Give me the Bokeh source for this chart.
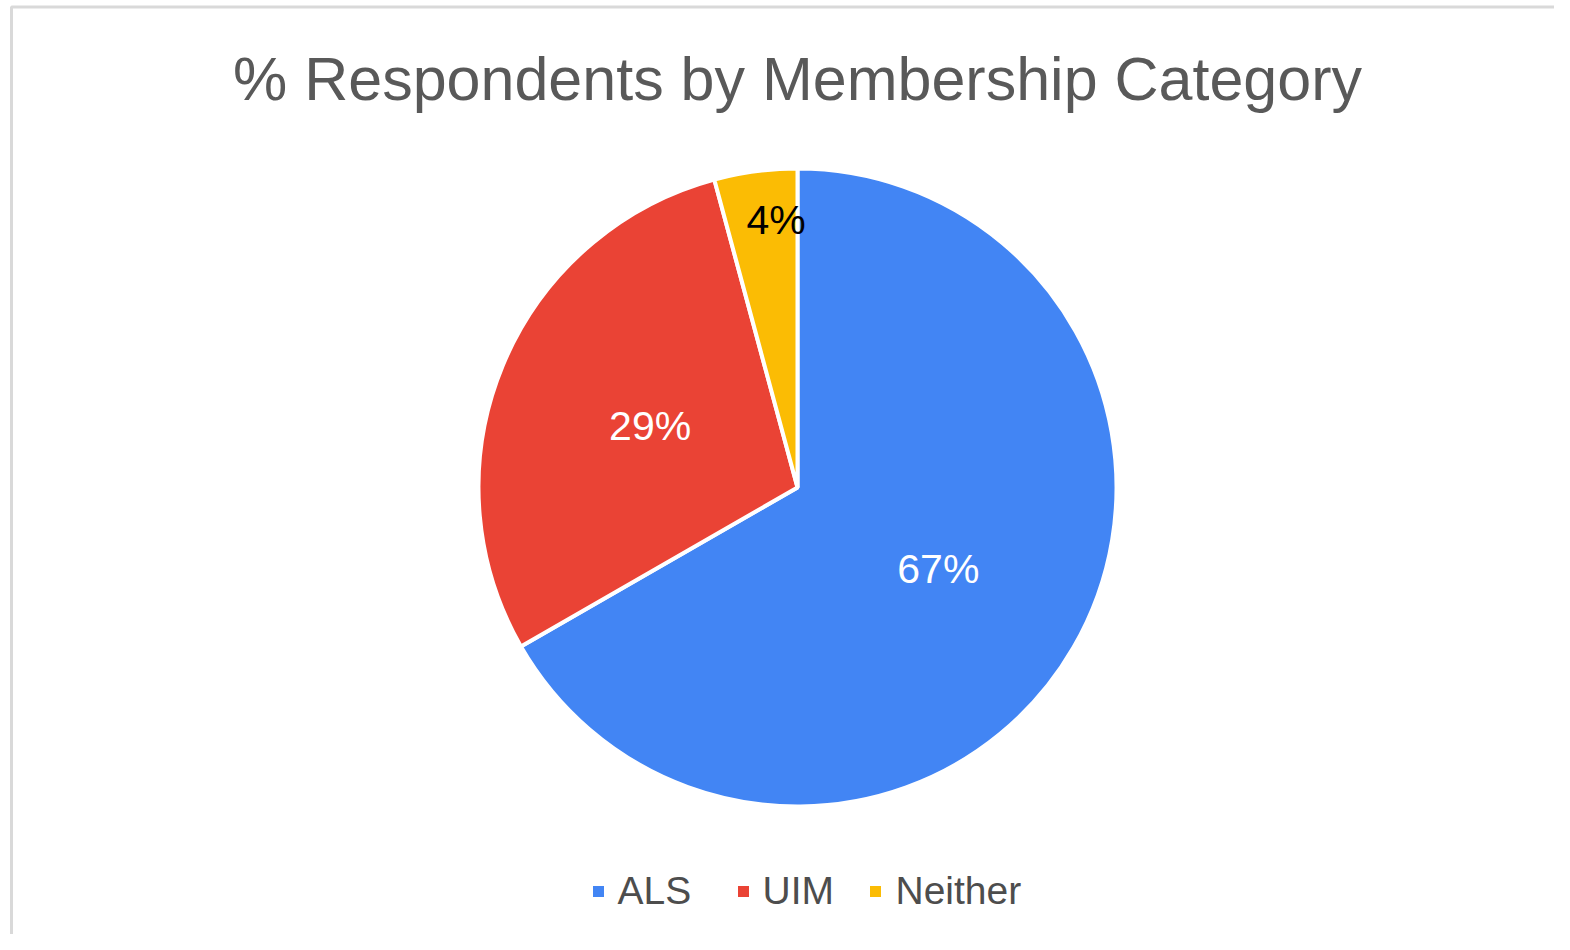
import math
from bokeh.plotting import figure
from bokeh.models import Range1d, ColumnDataSource
from bokeh.core.properties import value
from bokeh.embed import file_html
from bokeh.resources import INLINE

# ---- data ----
categories = ["ALS", "UIM", "Neither"]
percent = [66.7, 29.1, 4.2]
colors = ["#4285F4", "#EA4335", "#FBBC04"]
label_colors = ["#ffffff", "#ffffff", "#000000"]
title = "% Respondents by Membership Category"

# ---- layout (pixel-like coordinates, y negative downwards) ----
W, H = 1554, 934
cx, cy, R = 797, -487, 319
label_r = [0.51, 0.50, 0.845]
label_dx = [0, 0, 14]
FONT = "Liberation Sans"

total = sum(percent)
starts, ends, lx, ly, labels = [], [], [], [], []
acc = 0.0
for i, v in enumerate(percent):
    a0 = math.pi / 2 - 2 * math.pi * acc / total
    acc += v
    a1 = math.pi / 2 - 2 * math.pi * acc / total
    starts.append(a0)
    ends.append(a1)
    mid = (a0 + a1) / 2
    lx.append(cx + R * label_r[i] * math.cos(mid) + label_dx[i])
    ly.append(cy + R * label_r[i] * math.sin(mid))
    labels.append(f"{round(v / total * 100)}%")

src = ColumnDataSource(dict(cat=categories, val=percent, start=starts, end=ends,
                            color=colors, lx=lx, ly=ly, label=labels, lcol=label_colors))

p = figure(width=W, height=H, output_backend="svg", toolbar_location=None,
           x_range=Range1d(0, W), y_range=Range1d(-H, 0),
           min_border=0, outline_line_color=None, tools="")
p.axis.visible = False
p.grid.visible = False
p.background_fill_color = "white"
p.border_fill_color = "white"

# chart border
p.quad(left=[11], right=[3000], top=[-6.5], bottom=[-3000], fill_color=None,
       line_color="#d9d9d9", line_width=3)

# title
p.text(x=[797], y=[-78], text=[title], text_font=value(FONT), text_font_size="61px",
       text_color="#595959", text_align="center", text_baseline="middle")

# pie
p.wedge(x=cx, y=cy, radius=R, start_angle="start", end_angle="end", direction="clock",
        fill_color="color", line_color="white", line_width=4, source=src)

# slice labels
p.text(x="lx", y="ly", text="label", text_color="lcol", source=src,
       text_font=value(FONT), text_font_size="41px",
       text_align="center", text_baseline="middle")

# legend
leg_sq_x = [598, 743, 875]
leg_tx_x = [617, 762, 895]
leg_y = -891
p.scatter(x=leg_sq_x, y=[leg_y] * 3, marker="square", size=11, fill_color=colors,
          line_color=None)
p.text(x=leg_tx_x, y=[leg_y + 1] * 3, text=categories, text_font=value(FONT),
       text_font_size="39px", text_color="#4d4d4d", text_align="left",
       text_baseline="middle")

open("out.html", "w").write(file_html(p, INLINE))
